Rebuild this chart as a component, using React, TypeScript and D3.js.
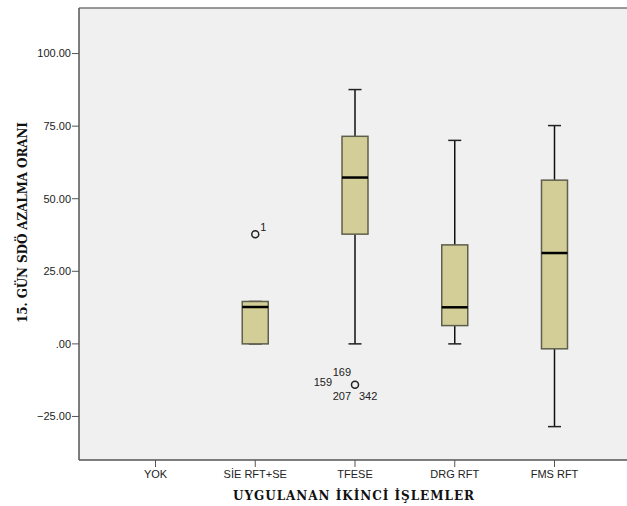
import React from "react";
import * as d3 from "d3";

const categories = ["YOK", "SİE RFT+SE", "TFESE", "DRG RFT", "FMS RFT"];
const hasBox = [false, true, true, true, true];
const whiskerLow = [0, 0, 0, 0, -28.5];
const q1 = [0, 0, 37.8, 6.3, -1.7];
const median = [0, 12.7, 57.3, 12.6, 31.3];
const q3 = [0, 14.6, 71.5, 34.1, 56.4];
const whiskerHigh = [0, 14.6, 87.6, 70.1, 75.2];
const yTicks = [-25, 0, 25, 50, 75, 100];

const outlierCategory = ["SİE RFT+SE", "TFESE"];
const outlierValue = [37.8, -14.1];

const W = 627;
const H = 506;
const left = 79;
const right = 628;
const top = 8;
const bottom = 460;

export default function App() {
  const y = d3.scaleLinear().domain([-40, 115.7]).range([bottom, top]);
  const x = d3.scalePoint<string>().domain(categories).range([155.5, 554.5]);
  const boxW = 26;
  const capW = 13;
  const fill = "#d3ce97";
  const boxStroke = "#5e5e4c";
  const tickFont = "Liberation Sans, Arial, sans-serif";
  const titleFont = "DejaVu Serif, serif";

  return (
    <svg width={W} height={H} style={{ position: "absolute", left: 0, top: 0 }}>
      <rect x={left} y={top} width={right - left} height={bottom - top} fill="#f0f0f0" stroke="none" />
      {/* frame */}
      <line x1={left} y1={top} x2={right} y2={top} stroke="#777" strokeWidth={1.5} />
      <line x1={left} y1={top} x2={left} y2={bottom} stroke="#555" strokeWidth={1.5} />
      <line x1={left} y1={bottom} x2={right} y2={bottom} stroke="#555" strokeWidth={1.5} />

      {/* y ticks */}
      {yTicks.map((t) => (
        <g key={t}>
          <line x1={left - 7} x2={left} y1={y(t)} y2={y(t)} stroke="#555" strokeWidth={1} />
          <text x={left - 8} y={y(t)} dy="0.35em" textAnchor="end" fontFamily={tickFont} fontSize={11} fill="#222">
            {t === 0 ? ".00" : d3.format(".2f")(t)}
          </text>
        </g>
      ))}

      {/* x ticks */}
      {categories.map((c) => (
        <g key={c}>
          <line x1={x(c)!} x2={x(c)!} y1={bottom} y2={bottom + 7} stroke="#555" strokeWidth={1} />
          <text x={x(c)!} y={bottom + 18} textAnchor="middle" fontFamily={tickFont} fontSize={11} fill="#222">
            {c}
          </text>
        </g>
      ))}

      {/* boxes */}
      {categories.map((c, i) => {
        if (!hasBox[i]) return null;
        const cx = x(c)!;
        return (
          <g key={"b" + c}>
            <line x1={cx} x2={cx} y1={y(whiskerHigh[i])} y2={y(q3[i])} stroke="#111" strokeWidth={1.5} />
            <line x1={cx} x2={cx} y1={y(q1[i])} y2={y(whiskerLow[i])} stroke="#111" strokeWidth={1.5} />
            <line x1={cx - capW / 2} x2={cx + capW / 2} y1={y(whiskerHigh[i])} y2={y(whiskerHigh[i])} stroke="#222" strokeWidth={1.5} />
            <line x1={cx - capW / 2} x2={cx + capW / 2} y1={y(whiskerLow[i])} y2={y(whiskerLow[i])} stroke="#222" strokeWidth={1.5} />
            <rect x={cx - boxW / 2} y={y(q3[i])} width={boxW} height={y(q1[i]) - y(q3[i])} fill={fill} stroke={boxStroke} strokeWidth={1.5} />
            <line x1={cx - boxW / 2} x2={cx + boxW / 2} y1={y(median[i])} y2={y(median[i])} stroke="#000" strokeWidth={2.5} />
          </g>
        );
      })}

      {/* outliers */}
      {outlierCategory.map((c, i) => (
        <circle key={"o" + i} cx={x(c)!} cy={y(outlierValue[i])} r={3.5} fill="none" stroke="#222" strokeWidth={1.5} />
      ))}
      <text x={x("SİE RFT+SE")! + 5} y={y(37.8) - 3} fontFamily={tickFont} fontSize={11} fill="#222">1</text>
      <text x={x("TFESE")! - 4} y={y(-14.1) - 13} textAnchor="end" fontFamily={tickFont} fontSize={11} fill="#222" dy="0.35em">169</text>
      <text x={x("TFESE")! - 23} y={y(-14.1) - 3} textAnchor="end" fontFamily={tickFont} fontSize={11} fill="#222" dy="0.35em">159</text>
      <text x={x("TFESE")! - 4} y={y(-14.1) + 11} textAnchor="end" fontFamily={tickFont} fontSize={11} fill="#222" dy="0.35em">207</text>
      <text x={x("TFESE")! + 4} y={y(-14.1) + 11} textAnchor="start" fontFamily={tickFont} fontSize={11} fill="#222" dy="0.35em">342</text>

      {/* titles */}
      <text x={353.5} y={500} textAnchor="middle" fontFamily={titleFont} fontWeight="bold" fontSize={12} fill="#111" textLength={241} lengthAdjust="spacing">
        UYGULANAN İKİNCİ İŞLEMLER
      </text>
      <text transform={`translate(27, 222.5) rotate(-90)`} textAnchor="middle" fontFamily={titleFont} fontWeight="bold" fontSize={12} fill="#111" textLength={201} lengthAdjust="spacing">
        15. GÜN SDÖ AZALMA ORANI
      </text>
    </svg>
  );
}
